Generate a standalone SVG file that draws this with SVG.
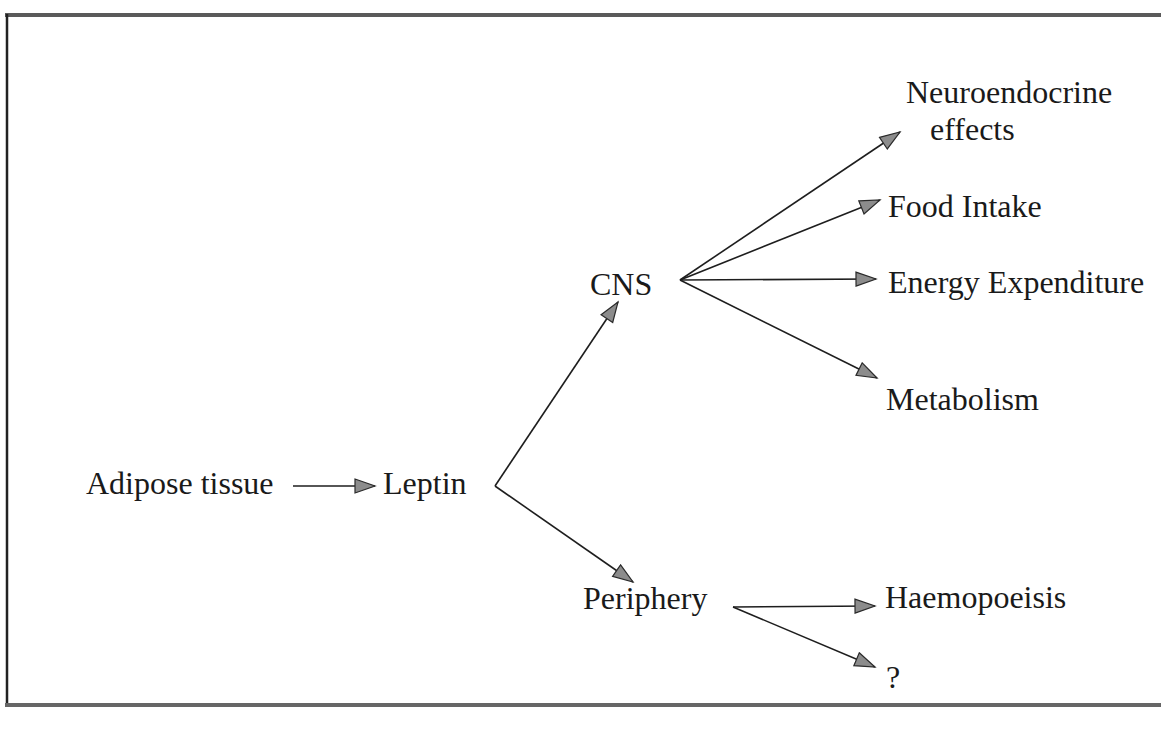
<svg xmlns="http://www.w3.org/2000/svg" width="1161" height="729" viewBox="0 0 1161 729">
<style>
  .t { font-family: "Liberation Serif", "Times New Roman", serif; font-size: 32px; fill: #1a1a1a; }
  .c { stroke: #1e1e1e; stroke-width: 1.6; fill: none; marker-end: url(#ah); }
</style>
<defs>
  <marker id="ah" markerUnits="userSpaceOnUse" markerWidth="24" markerHeight="18" refX="21" refY="8" orient="auto">
    <path d="M1,1 L21,8 L1,15 z" fill="#8c8c8c" stroke="#2a2a2a" stroke-width="1.2" stroke-linejoin="miter"/>
  </marker>
</defs>
<rect x="0" y="0" width="1161" height="729" fill="#ffffff"/>
<g id="frame">
  <line x1="5" y1="15" x2="1161" y2="15" stroke="#5a5a5a" stroke-width="4"/>
  <line x1="7" y1="14" x2="7" y2="707" stroke="#222" stroke-width="2.5"/>
  <line x1="5" y1="705" x2="1161" y2="705" stroke="#666" stroke-width="4"/>
</g>
<g id="connectors">
  <line class="c" x1="293" y1="486" x2="375" y2="486"/>
  <line class="c" x1="495" y1="486" x2="618" y2="302"/>
  <line class="c" x1="495" y1="486" x2="633" y2="582"/>
  <line class="c" x1="680" y1="280" x2="900" y2="132"/>
  <line class="c" x1="680" y1="280" x2="880" y2="200"/>
  <line class="c" x1="680" y1="280" x2="876" y2="279"/>
  <line class="c" x1="680" y1="280" x2="877" y2="378"/>
  <line class="c" x1="733" y1="607" x2="875" y2="606"/>
  <line class="c" x1="733" y1="607" x2="875" y2="667"/>
</g>
<g id="adipose"><text class="t" x="86" y="494">Adipose tissue</text></g>
<g id="leptin"><text class="t" x="383" y="494">Leptin</text></g>
<g id="cns"><text class="t" x="590" y="295">CNS</text></g>
<g id="periphery"><text class="t" x="583" y="609">Periphery</text></g>
<g id="neuroendocrine"><text class="t" x="906" y="103">Neuroendocrine</text><text class="t" x="930" y="140">effects</text></g>
<g id="food"><text class="t" x="888" y="217">Food Intake</text></g>
<g id="energy"><text class="t" x="888" y="293">Energy Expenditure</text></g>
<g id="metabolism"><text class="t" x="886" y="410">Metabolism</text></g>
<g id="haemopoeisis"><text class="t" x="885" y="608">Haemopoeisis</text></g>
<g id="unknown"><text class="t" x="886" y="688">?</text></g>
</svg>
